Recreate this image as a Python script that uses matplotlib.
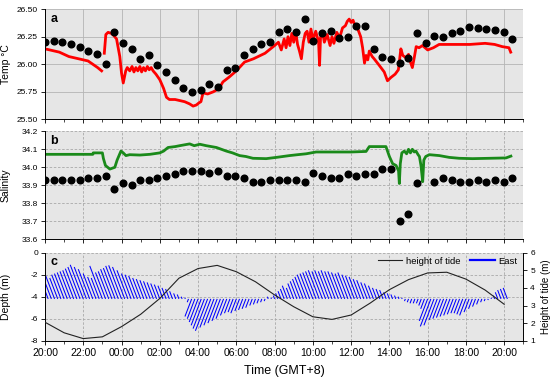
import numpy as np
import matplotlib
matplotlib.use("Agg")
import matplotlib.pyplot as plt
from matplotlib.collections import LineCollection
from matplotlib.lines import Line2D
from matplotlib.ticker import FormatStrFormatter, MultipleLocator

plt.rcParams['font.family'] = ['Liberation Sans', 'DejaVu Sans']
plt.rcParams['axes.unicode_minus'] = False

# ---------------- data ----------------
xtick_labels = ["20:00", "22:00", "00:00", "02:00", "04:00", "06:00", "08:00",
                "10:00", "12:00", "14:00", "16:00", "18:00", "20:00"]

# discrete samples (black dots), ~27 min interval from 20:00
dot_temp = [26.20, 26.21, 26.20, 26.18, 26.16, 26.12, 26.09, 26.00, 26.29, 26.19,
            26.14, 26.05, 26.08, 25.99, 25.93, 25.86, 25.78, 25.75, 25.77, 25.82,
            25.79, 25.95, 25.97, 26.08, 26.14, 26.18, 26.20, 26.29, 26.32, 26.29,
            26.41, 26.21, 26.28, 26.30, 26.24, 26.25, 26.35, 26.35, 26.14, 26.07,
            26.05, 26.01, 26.06, 26.28, 26.19, 26.26, 26.25, 26.28, 26.30, 26.34,
            26.33, 26.32, 26.31, 26.29, 26.23]
dot_sal = [33.93, 33.93, 33.93, 33.93, 33.93, 33.94, 33.94, 33.95, 33.88, 33.91,
           33.90, 33.93, 33.93, 33.94, 33.95, 33.96, 33.98, 33.98, 33.98, 33.97,
           33.98, 33.95, 33.95, 33.94, 33.92, 33.92, 33.93, 33.93, 33.93, 33.93,
           33.92, 33.97, 33.95, 33.94, 33.94, 33.96, 33.95, 33.96, 33.96, 33.99,
           33.99, 33.70, 33.74, 33.91, np.nan, 33.92, 33.94, 33.93, 33.92, 33.92,
           33.93, 33.92, 33.93, 33.92, 33.94]
dot_last_hour = 24.42

# continuous temperature (red), hours after 20:00
red_t = [0.0, 0.25, 0.5, 0.75, 1.0, 1.25, 1.5, 1.75, 2.0, 2.25,
         2.5, 2.75, 2.96, 3.05, 3.1, 3.18, 3.3, 3.47, 3.6, 3.74,
         3.91, 4.0, 4.09, 4.22, 4.3, 4.43, 4.55, 4.65, 4.75, 4.85,
         4.96, 5.05, 5.15, 5.25, 5.35, 5.45, 5.55, 5.65, 5.8, 6.0,
         6.2, 6.35, 6.5, 6.8, 7.04, 7.3, 7.56, 7.74, 7.91, 8.05,
         8.15, 8.26, 8.5, 8.8, 9.1, 9.3, 9.6, 10.0, 10.43, 10.9,
         11.5, 12.0, 12.2, 12.35, 12.5, 12.6, 12.7, 12.8, 12.9, 13.0,
         13.1, 13.2, 13.3, 13.4, 13.5, 13.6, 13.7, 13.8, 13.9, 14.0,
         14.15, 14.3, 14.35, 14.4, 14.5, 14.6, 14.75, 14.9, 15.0, 15.1,
         15.25, 15.4, 15.55, 15.7, 15.8, 15.9, 16.0, 16.1, 16.2, 16.35,
         16.5, 16.6, 16.7, 16.78, 16.87, 16.95, 17.1, 17.2, 17.47, 17.73,
         17.9, 18.08, 18.3, 18.47, 18.6, 18.7, 18.86, 19.0, 19.1, 19.2,
         19.3, 19.4, 19.55, 19.73, 20.0, 20.3, 20.6, 21.5, 22.2, 23.0,
         23.5, 23.9, 24.25, 24.34]
red_v = [26.14, 26.13, 26.12, 26.11, 26.09, 26.07, 26.06, 26.05, 26.04, 26.03,
         26.00, 25.97, 25.94, np.nan, 26.10, 26.27, 26.29, 26.28, 26.26, 26.23,
         26.07, 25.92, 25.83, 25.94, 25.97, 25.94, 25.98, 25.93, 25.97, 25.94,
         25.98, 25.93, 25.97, 25.94, 25.98, 25.95, 25.97, 25.94, 25.91, 25.86,
         25.78, 25.70, 25.68, 25.68, 25.67, 25.66, 25.64, 25.62, 25.63, 25.65,
         25.66, 25.74, 25.73, 25.75, 25.78, 25.84, 25.88, 25.94, 26.02, 26.05,
         26.10, 26.17, 26.20, 26.13, 26.23, 26.15, 26.25, 26.17, 26.28, 26.20,
         26.30, 26.18, 26.12, 26.05, 26.20, 26.28, 26.30, 26.20, 26.32, 26.22,
         26.30, 26.20, 25.99, 26.24, 26.30, 26.20, 26.27, 26.17, 26.25, 26.19,
         26.29, 26.24, 26.33, 26.35, 26.39, 26.41, 26.38, 26.40, 26.35, 26.32,
         26.25, 26.15, 26.01, 26.08, 26.04, 26.12, 26.07, 26.05, 25.99, 25.93,
         25.85, 25.88, 25.91, 25.95, 26.14, 26.08, 26.06, 26.09, 26.02, 25.97,
         26.06, 26.16, 26.15, 26.17, 26.13, 26.15, 26.18, 26.18, 26.18, 26.19,
         26.18, 26.16, 26.15, 26.11]

# continuous salinity (green)
green_t = [0.0, 2.5, 2.52, 3.0, 3.05, 3.16, 3.39, 3.65, 3.77, 3.97,
           4.09, 4.23, 4.43, 4.96, 5.48, 6.0, 6.2, 6.43, 6.8, 7.04,
           7.3, 7.56, 7.8, 8.09, 8.43, 8.96, 9.48, 9.8, 10.17, 10.5,
           10.87, 11.56, 12.09, 12.78, 13.2, 13.65, 14.17, 16.0, 16.78, 16.95,
           17.82, 18.0, 18.17, 18.35, 18.48, 18.52, 18.57, 18.65, 18.78, 18.9,
           19.0, 19.1, 19.2, 19.3, 19.39, 19.5, 19.57, 19.65, 19.74, 19.8,
           19.9, 20.09, 20.61, 21.13, 21.65, 22.35, 23.22, 24.09, 24.35]
green_v = [34.072, 34.072, 34.08, 34.08, 34.05, 34.01, 33.99, 34.0, 34.04, 34.09,
           34.08, 34.065, 34.07, 34.068, 34.072, 34.08, 34.09, 34.11, 34.115, 34.12,
           34.125, 34.13, 34.12, 34.128, 34.12, 34.11, 34.09, 34.08, 34.065, 34.06,
           34.05, 34.048, 34.055, 34.065, 34.07, 34.075, 34.085, 34.085, 34.088, 34.115,
           34.115, 34.06, 34.02, 34.01, 33.98, 33.91, 34.02, 34.08, 34.09, 34.075,
           34.10, 34.08, 34.10, 34.085, 34.09, 34.07, 34.06, 34.01, 33.92, 34.04,
           34.06, 34.07, 34.065, 34.055, 34.05, 34.048, 34.05, 34.052, 34.062]

# tide height (m), hourly from 20:00
tide_hour = list(range(25))
tide_h = [2.05, 1.45, 1.12, 1.22, 1.80, 2.50, 3.40, 4.55, 5.10, 5.28,
          4.92, 4.35, 3.60, 2.93, 2.36, 2.21, 2.46, 3.14, 3.90, 4.47,
          4.85, 4.89, 4.50, 3.88, 3.07]

# East current sticks, every 10 min from 20:00 (stick length in plot units)
east_len = [1.2, 1.4, 2.0, 2.1, 1.9, 2.2, 2.3, 2.4, 2.5, 2.6,
            2.75, 2.9, 3.1, 2.9, 2.7, 2.3, 2.0, 1.9, 3.0, 2.4,
            2.5, 2.7, 2.8, 3.0, 3.05, 2.9, 2.6, 2.3, 2.2, 2.1,
            1.9, 1.8, 1.7, 1.6, 1.5, 1.4, 1.3, 1.2, 1.0, 0.9,
            0.7, 0.5, 0.4, 0.2, 0.1, -0.3, -1.6, -1.8, -2.1, -2.4,
            -2.7, -2.9, -2.6, -2.4, -2.2, -2.0, -1.8, -1.5, -1.3, -1.2,
            -1.3, -1.1, -1.0, -0.9, -0.8, -0.6, -0.5, -0.4, -0.3, -0.2,
            0.2, 0.1, 0.3, 0.5, 0.7, 0.9, 1.2, 1.0, 1.4, 1.6,
            1.8, 2.0, 2.2, 2.3, 2.4, 2.5, 2.6, 2.5, 2.6, 2.5,
            2.6, 2.5, 2.5, 2.4, 2.3, 2.4, 2.2, 2.1, 2.0, 1.8,
            1.7, 1.5, 1.4, 1.2, 1.0, 0.9, 0.8, 0.6, 0.5, 0.4,
            0.3, 0.2, 0.1, -0.2, -0.3, -0.4, -0.4, -0.4, -0.6, -0.9,
            -2.0, -2.5, -2.4, -1.9, -1.8, -1.7, -1.6, -1.5, -1.4, -1.3,
            -1.3, -1.4, -1.5, -1.2, -0.9, -0.7, -0.5, -0.3, -0.2, -0.1,
            0.1, 0.3, 0.6, 0.8, 0.9, 1.0]
east_step_min = 10
stick_base = -4.2
stick_slant = 0.22  # hours of leftward offset per unit length

# ---------------- figure ----------------
fig = plt.figure(figsize=(5.5, 3.8), dpi=100)
L, W = 0.0818, 0.8697
axa = fig.add_axes([L, 0.686, W, 0.2898])
axb = fig.add_axes([L, 0.3703, W, 0.2842])
axc = fig.add_axes([L, 0.1034, W, 0.2316])

bg = '#e6e6e6'
for ax in (axa, axb, axc):
    ax.set_facecolor(bg)
    ax.spines['top'].set_visible(False)
    ax.spines['right'].set_visible(False)
    for s in ('left', 'bottom'):
        ax.spines[s].set_linewidth(0.7)
    ax.set_xlim(0, 25)
    ax.set_xticks(np.arange(0, 25, 2))
    ax.xaxis.set_minor_locator(MultipleLocator(1))
    ax.tick_params(axis='both', which='major', direction='out', length=3, width=0.6,
                   labelsize=6, pad=2)
    ax.tick_params(axis='x', which='minor', direction='out', length=1.8, width=0.5)
    ax.set_axisbelow(True)

axa.grid(True, which='major', color='#b4b4b4', linewidth=0.6, linestyle='-')
axb.grid(True, which='major', color='#a8a8a8', linewidth=0.6, linestyle=(0, (3, 2)))
axc.grid(True, which='major', color='#a8a8a8', linewidth=0.6, linestyle=(0, (3, 2)))

for ax in (axa, axb):
    ax.tick_params(axis='x', which='both', labelbottom=False)
axc.set_xticklabels(xtick_labels)
axc.tick_params(axis='x', labelsize=7.5, pad=2)

dot_t = np.linspace(0, dot_last_hour, len(dot_temp))

# panel a
axa.plot(red_t, red_v, color='#ff0000', lw=2.0, zorder=2)
axa.plot(dot_t, dot_temp, 'o', color='black', ms=4.8, zorder=3)
axa.set_ylim(25.5, 26.5)
axa.set_yticks([25.5, 25.75, 26.0, 26.25, 26.5])
axa.yaxis.set_major_formatter(FormatStrFormatter('%.2f'))
axa.set_ylabel('Temp °C', fontsize=7.5)
axa.yaxis.set_label_coords(-0.072, 0.5)

# panel b
axb.plot(green_t, green_v, color='#1a8a1a', lw=2.0, zorder=2)
axb.plot(dot_t, dot_sal, 'o', color='black', ms=4.8, zorder=3)
axb.set_ylim(33.6, 34.2)
axb.set_yticks(np.arange(33.6, 34.21, 0.1))
axb.yaxis.set_major_formatter(FormatStrFormatter('%.1f'))
axb.set_ylabel('Salinity', fontsize=7.5)
axb.yaxis.set_label_coords(-0.072, 0.5)

# panel c
east_t = np.arange(len(east_len)) * east_step_min / 60.0
segs = []
for t, l in zip(east_t, east_len):
    segs.append([(t, stick_base), (t - stick_slant * abs(l), stick_base + l)])
lc = LineCollection(segs, colors='#0000ff', linewidths=0.75, zorder=2)
axc.add_collection(lc)
axc.set_ylim(-8, 0)
axc.set_yticks([-8, -6, -4, -2, 0])
axc.set_ylabel('Depth (m)', fontsize=7.5)
axc.yaxis.set_label_coords(-0.072, 0.5)
axc.set_xlabel('Time (GMT+8)', fontsize=9, labelpad=5)

ax2 = axc.twinx()
ax2.set_position([L, 0.1034, W, 0.2316])
ax2.plot(tide_hour, tide_h, color='#222222', lw=0.8, zorder=3)
ax2.set_ylim(1, 6)
ax2.set_yticks([1, 2, 3, 4, 5, 6])
ax2.spines['top'].set_visible(False)
ax2.spines['left'].set_visible(False)
ax2.spines['bottom'].set_visible(False)
ax2.spines['right'].set_linewidth(0.7)
ax2.tick_params(axis='y', direction='out', length=3, width=0.6, labelsize=6, pad=2)
ax2.set_ylabel('Height of tide (m)', fontsize=7)
ax2.yaxis.set_label_coords(1.036, 0.5)
ax2.set_xlim(0, 25)

handles = [Line2D([], [], color='#222222', lw=0.8),
           Line2D([], [], color='#0000ff', lw=1.6)]
ax2.legend(handles, ['height of tide', 'East'], loc='upper right', ncol=2,
           frameon=False, fontsize=6.8, handlelength=2.6, handletextpad=0.4,
           columnspacing=1.0, borderaxespad=0.2, bbox_to_anchor=(1.0, 1.02))

for ax, lab in ((axa, 'a'), (axb, 'b'), (axc, 'c')):
    ax.text(0.011, 0.965, lab, transform=ax.transAxes, ha='left', va='top',
            fontsize=9, fontweight='bold')

fig.savefig('out.png', dpi=100)
